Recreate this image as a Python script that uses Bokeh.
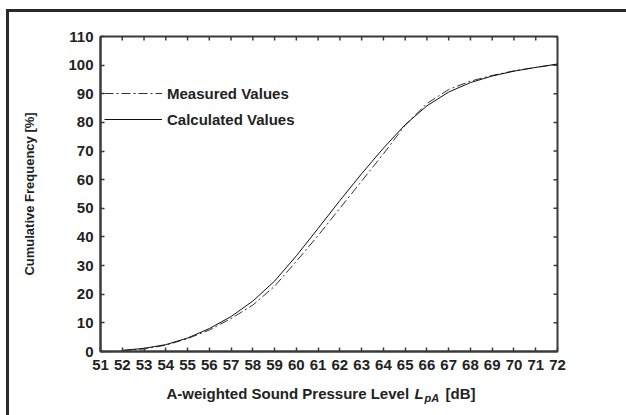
import math
from bokeh.plotting import figure
from bokeh.layouts import column
from bokeh.models import FixedTicker, Range1d, Legend, LegendItem
from bokeh.core.properties import value
from bokeh.embed import file_html
from bokeh.resources import INLINE

# A-weighted sound pressure level (dB)
levels = [52, 53, 54, 55, 56, 57, 58, 59, 60, 61, 62, 63, 64, 65, 66, 67, 68, 69, 70, 71, 72]

# cumulative frequency (%) of measured and calculated distributions
measured = [0.3, 0.9, 2.2, 4.5, 7.5, 11.5, 16.2, 22.8, 31.5, 40.5, 50.0, 59.5, 69.0, 79.0,
            86.6, 91.5, 94.4, 96.4, 98.0, 99.2, 100.3]
calculated = [0.4, 1.1, 2.4, 4.7, 8.0, 12.2, 17.6, 24.6, 33.4, 43.0, 52.7, 62.1, 71.0, 79.2,
              85.8, 90.6, 93.9, 96.2, 97.9, 99.2, 100.4]

x_ticks = list(range(51, 73))
y_ticks = list(range(0, 111, 10))

# x-axis title pieces: plain text, italic symbol, italic subscript, unit
x_title = ["A-weighted Sound Pressure Level", "L", "pA", "[dB]"]

FONT = "Liberation Sans"
INK = "#222222"
AXIS = "#3a3a3a"
W = 617
BORDER = dict(min_border_left=91, min_border_right=69)

X0, X1, Y0, Y1 = 51, 72, 0, 110

p = figure(width=W, height=363, output_backend="svg", toolbar_location=None,
           x_range=Range1d(X0, X1), y_range=Range1d(Y0, Y1),
           min_border_top=24, min_border_bottom=24, **BORDER,
           background_fill_color="white", border_fill_color="white")
p.grid.visible = False
p.outline_line_color = AXIS
p.outline_line_width = 2

for ax in (p.xaxis[0], p.yaxis[0]):
    ax.axis_line_color = AXIS
    ax.axis_line_width = 2
    ax.major_tick_in = 4
    ax.major_tick_out = 0
    ax.major_tick_line_color = AXIS
    ax.major_tick_line_width = 1.5
    ax.minor_tick_line_color = None
    ax.major_label_text_font = FONT
    ax.major_label_text_font_style = "bold"
    ax.major_label_text_color = INK

p.xaxis.ticker = FixedTicker(ticks=x_ticks)
p.yaxis.ticker = FixedTicker(ticks=y_ticks)
p.xaxis.major_label_text_font_size = "15px"
p.xaxis.major_label_standoff = 8
p.yaxis.major_label_text_font_size = "15px"
p.yaxis.major_label_standoff = 7

p.yaxis.axis_label = "Cumulative Frequency [%]"
p.yaxis.axis_label_text_font = FONT
p.yaxis.axis_label_text_font_style = "bold"
p.yaxis.axis_label_text_font_size = "13px"
p.yaxis.axis_label_text_color = INK
p.yaxis.axis_label_standoff = 28

# inward tick marks mirrored on the top and right edges of the frame
p.ray(x=x_ticks, y=[Y1] * len(x_ticks), length=4, length_units="screen",
      angle=-math.pi / 2, line_color=AXIS, line_width=1.5)
p.ray(x=[X1] * len(y_ticks), y=y_ticks, length=4, length_units="screen",
      angle=math.pi, line_color=AXIS, line_width=1.5)

r_meas = p.line(levels, measured, line_color="#333333", line_width=1,
                line_dash="9 3 2 3")
r_calc = p.line(levels, calculated, line_color="#111111", line_width=1)

legend = Legend(items=[LegendItem(label="Measured Values", renderers=[r_meas]),
                       LegendItem(label="Calculated Values", renderers=[r_calc])],
                location=(4, 222), glyph_width=58, glyph_height=20, spacing=6,
                label_standoff=5, padding=0, margin=0,
                background_fill_alpha=0, border_line_color=None,
                label_text_font=FONT, label_text_font_style="bold",
                label_text_font_size="15px", label_text_color=INK)
p.add_layout(legend)

# strip under the chart carrying the x-axis title; its frame lines up with the
# chart frame and its x range is expressed in page pixels
t = figure(width=W, height=40, output_backend="svg", toolbar_location=None,
           x_range=Range1d(100, 557), y_range=Range1d(0, 40),
           min_border_top=0, min_border_bottom=0, **BORDER, outline_line_color=None,
           background_fill_color="white", border_fill_color="white")
t.axis.visible = False
t.grid.visible = False
common = dict(text_font=value(FONT), text_color=INK, text_baseline="alphabetic",
              text_align="left")
t.text(x=[166], y=[22], text=[x_title[0]], text_font_size="15px",
       text_font_style="bold", **common)
t.text(x=[414], y=[22], text=[x_title[1]], text_font_size="15px",
       text_font_style="bold italic", **common)
t.text(x=[424], y=[18], text=[x_title[2]], text_font_size="11px",
       text_font_style="bold italic", **common)
t.text(x=[445], y=[22], text=[x_title[3]], text_font_size="15px",
       text_font_style="bold", **common)

# page frame along the top and left edges
page = column(p, t, spacing=0,
              styles={"border-top": "3px solid #2a2a2a", "border-left": "3px solid #2a2a2a",
                      "margin-top": "9px", "margin-left": "6px"})

open("out.html", "w").write(file_html(page, INLINE))
